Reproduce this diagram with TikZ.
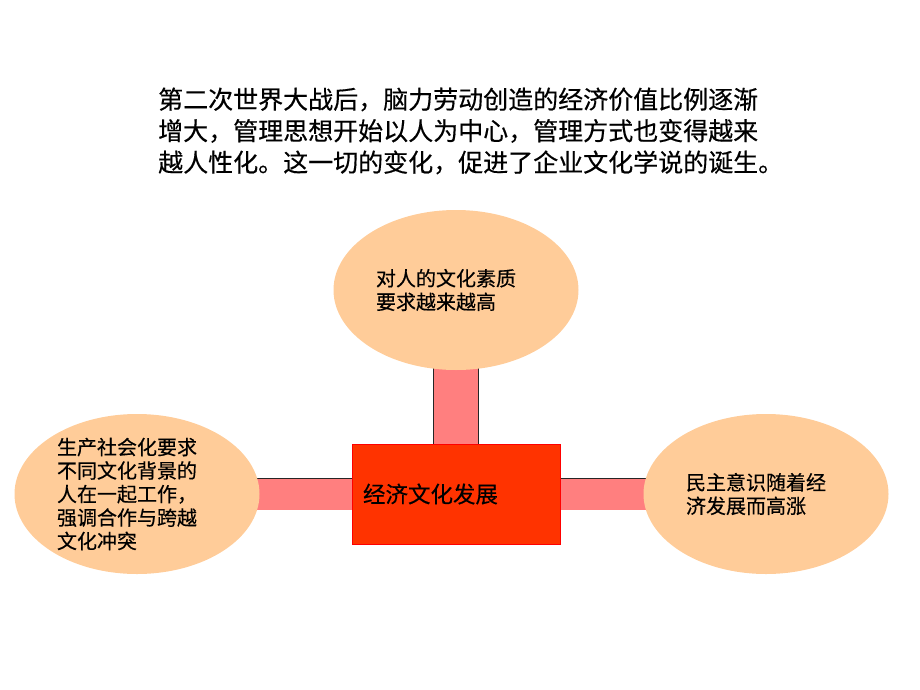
\documentclass[tikz,border=0pt]{standalone}
\usepackage{fontspec}
\setmainfont[FakeBold=0.4]{Noto Sans CJK SC}
\usepackage{tikz}
\usetikzlibrary{shapes.geometric}
\usetikzlibrary{backgrounds}
\definecolor{peach}{HTML}{FFCC99}
\definecolor{barpink}{HTML}{FF7F7F}
\definecolor{boxred}{HTML}{FF3300}
\tikzset{
  idea/.style={ellipse, fill=peach, minimum width=245pt, minimum height=160pt,
    inner xsep=0pt, inner ysep=-12pt, text width=160pt, align=left,
    font=\fontsize{20}{23.5}\selectfont},
  core/.style={rectangle, draw=red, fill=boxred, minimum width=208pt,
    minimum height=100pt, inner sep=0pt, text width=186pt, align=left,
    font=\fontsize{22.5}{27}\selectfont},
  bar/.style={draw=black!85, line width=0.8pt, double=barpink,
    double distance=#1, shorten >=-5pt}
}
\newcommand{\ideanode}[4]{\node[idea] (#1) at ( #2 , #3 ) {#4};}

\begin{document}
\begin{tikzpicture}[x=1pt,y=-1pt]
\useasboundingbox (0,0) rectangle (920,690);
% intro text
\node[anchor=west, inner sep=0pt, align=left, font=\fontsize{25}{31.5}\selectfont] (intro) at (158,131)
  {第二次世界大战后，脑力劳动创造的经济价值比例逐渐\\增大，管理思想开始以人为中心，管理方式也变得越来\\越人性化。这一切的变化，促进了企业文化学说的诞生。};
% middle box
\node[core] (core) at (456,494) {经济文化发展};
% three ellipses
\ideanode{quality}{456}{290}{对人的文化素质\\要求越来越高}
\ideanode{society}{137}{494}{生产社会化要求\\不同文化背景的\\人在一起工作，\\强调合作与跨越\\文化冲突}
\ideanode{democracy}{766}{494}{民主意识随着经\\济发展而高涨}
% bars behind
\begin{scope}[on background layer]
\draw[bar=44pt] (core.north) -- (quality.south);
\draw[bar=31pt] (core.west) -- (society.east);
\draw[bar=31pt] (core.east) -- (democracy.west);
\end{scope}
\end{tikzpicture}
\end{document}
